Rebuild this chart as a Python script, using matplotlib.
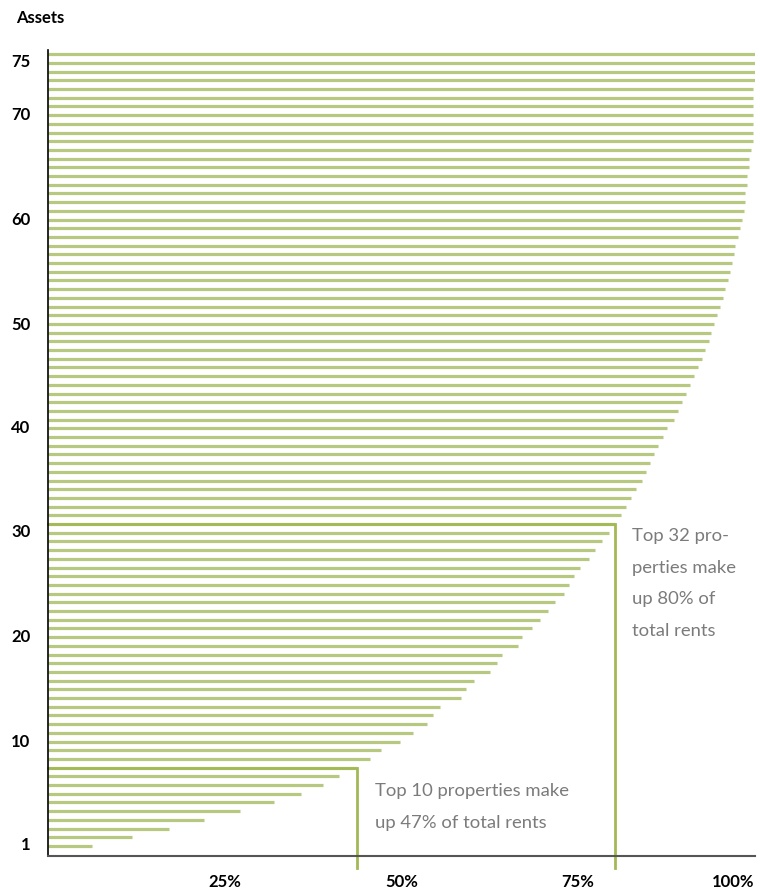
import numpy as np
import matplotlib.pyplot as plt

plt.rcParams['font.family'] = ['Lato', 'DejaVu Sans']

# cumulative share of total rents (%) per asset, ranked by rent
rent_share = [6.2, 11.9, 17.1, 22.0, 27.2, 31.9, 35.8, 38.9, 41.1, 43.7,
              45.6, 47.1, 49.8, 51.7, 53.6, 54.5, 55.4, 58.5, 59.1, 60.3,
              62.5, 63.5, 64.3, 66.5, 67.1, 68.5, 69.6, 70.8, 71.7, 73.0,
              73.7, 74.5, 75.3, 76.5, 77.4, 78.4, 79.4, 80.3, 81.1, 81.8,
              82.5, 83.2, 84.0, 84.7, 85.2, 85.8, 86.4, 87.0, 87.6, 88.6,
              89.2, 89.8, 90.3, 90.8, 91.5, 92.0, 92.5, 93.0, 93.5, 93.9,
              94.3, 94.7, 95.1, 95.5, 95.8, 96.2, 96.5, 96.8, 97.1, 97.3,
              97.6, 97.9, 98.2, 98.5, 98.7, 98.7, 98.9, 98.9, 99.2, 99.2,
              99.5, 99.8, 99.8, 99.8, 99.8, 99.8, 99.8, 99.8, 100, 100,
              100, 100]

ytick_labels = ['1', '10', '20', '30', '40', '50', '60', '70', '75']
ytick_pos = [1.23, 13.18, 25.25, 37.24, 49.16, 61.11, 73.18, 85.14, 91.34]
xtick_labels = ['25%', '50%', '75%', '100%']
xtick_pos = [25, 50, 75, 100]

# annotation brackets
bracket_row = [10, 38]
bracket_share = [43.7, 80.3]
note_text = ['Top 10 properties make\nup 47% of total rents',
             'Top 32 pro-\nperties make\nup 80% of\ntotal rents']
note_x = [46.3, 82.65]
note_y = [8.25, 37.55]

LINE = '#b7c881'
BRACKET = '#a3b955'
NOTE = '#7b7b7b'

fig = plt.figure(figsize=(7.6, 8.9), dpi=100)
ax = fig.add_axes([48.3/760, 34/890, (754.5-48.3)/760, 806/890])

assets = np.arange(1, len(rent_share) + 1)
ax.hlines(assets, 0, rent_share, color=LINE, lw=2.3)

for row, share, text, tx, ty in zip(bracket_row, bracket_share, note_text, note_x, note_y):
    ax.plot([0, share, share], [row, row, -1.5], color=BRACKET, lw=2.0, clip_on=False,
            solid_joinstyle='miter')
    ax.text(tx, ty, text, color=NOTE, fontsize=13.3, va='top', ha='left', linespacing=2.2)

ax.set_xlim(0, 100)
ax.set_ylim(-0.15, 92.49)

ax.set_yticks(ytick_pos, ytick_labels, fontweight='bold', fontsize=12)
ax.set_xticks(xtick_pos, xtick_labels, fontweight='bold', fontsize=12)
ax.get_xticklabels()[-1].set_ha('right')
ax.tick_params(axis='y', length=0, pad=13)
ax.tick_params(axis='x', length=0, pad=13)

for s in ['top', 'right']:
    ax.spines[s].set_visible(False)
ax.spines['left'].set_color('black')
ax.spines['left'].set_linewidth(1.2)
ax.spines['bottom'].set_color('#555555')
ax.spines['bottom'].set_linewidth(1.5)

fig.text(16/760, 1 - 18/890, 'Assets', fontweight='bold', fontsize=12, va='center', ha='left')

fig.savefig('out.png', dpi=100)
